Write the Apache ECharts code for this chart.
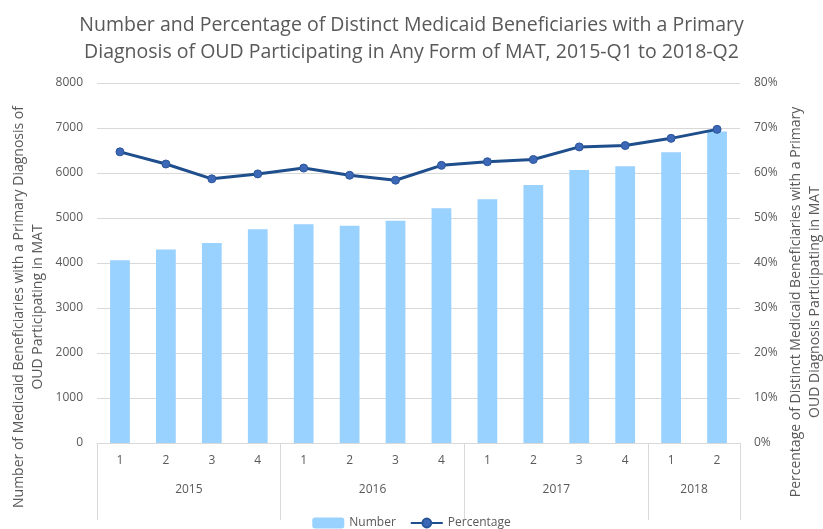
<!DOCTYPE html>
<html>
<head>
<meta charset="utf-8">
<script src="https://cdn.jsdelivr.net/npm/echarts@6/dist/echarts.min.js"></script>
<style>html,body{margin:0;padding:0;background:#fff}#c{width:823px;height:529px}</style>
</head>
<body>
<div id="c"></div>
<script>
const quarters = ['1','2','3','4','1','2','3','4','1','2','3','4','1','2'];
const years = ['2015','2016','2017','2018'];
const yearCenters = [2, 6, 10, 13];
const yearBounds = [0, 4, 8, 12, 14];
const numberValues = [4060, 4300, 4445, 4750, 4860, 4830, 4940, 5215, 5415, 5735, 6065, 6150, 6460, 6920];
const percentValues = [64.7, 62.0, 58.7, 59.8, 61.1, 59.5, 58.4, 61.7, 62.5, 63.0, 65.8, 66.1, 67.7, 69.7];

const txt = '#595959';
const font = '"Open Sans", sans-serif';
const chart = echarts.init(document.getElementById('c'));
chart.setOption({
  animation: false,
  textStyle: { fontFamily: font },
  title: {
    text: 'Number and Percentage of Distinct Medicaid Beneficiaries with a Primary\nDiagnosis of OUD Participating in Any Form of MAT, 2015-Q1 to 2018-Q2',
    left: 'center', top: 7,
    textStyle: { fontFamily: font, fontSize: 19.5, fontWeight: 'normal', color: txt, lineHeight: 27 }
  },
  legend: {
    bottom: -5, left: 'center', itemWidth: 32, itemHeight: 11, itemGap: 14,
    textStyle: { fontFamily: font, fontSize: 12, color: txt },
    data: ['Number', 'Percentage']
  },
  grid: { left: 97, right: 83, top: 83, bottom: 86 },
  xAxis: [
    {
      type: 'category', data: quarters, gridIndex: 0, position: 'bottom',
      axisLine: { lineStyle: { color: '#d9d9d9' } },
      axisTick: { show: false },
      axisLabel: { color: txt, fontSize: 12, margin: 12 }
    },
    {
      type: 'value', min: 0, max: 14, gridIndex: 0, position: 'bottom',
      axisLine: { show: false },
      splitLine: { show: false },
      axisTick: { show: true, customValues: yearBounds, length: 77, lineStyle: { color: '#d9d9d9' } },
      axisLabel: {
        customValues: yearCenters, color: txt, fontSize: 12, margin: 41,
        formatter: v => years[yearCenters.indexOf(v)]
      }
    }
  ],
  yAxis: [
    {
      type: 'value', min: 0, max: 8000, interval: 1000,
      axisLine: { show: false }, axisTick: { show: false },
      splitLine: { lineStyle: { color: '#d9d9d9' } },
      axisLabel: { color: txt, fontSize: 12, margin: 14, formatter: v => String(v) }
    },
    {
      type: 'value', min: 0, max: 80, interval: 10, position: 'right',
      axisLine: { show: false }, axisTick: { show: false },
      splitLine: { show: false },
      axisLabel: { color: txt, fontSize: 12, margin: 14, formatter: v => v + '%' }
    }
  ],
  graphic: [
    {
      type: 'text', x: 29, y: 307, rotation: Math.PI / 2,
      style: {
        text: 'Number of Medicaid Beneficiaries with a Primary Diagnosis of\nOUD Participating in MAT',
        fontSize: 14, fontFamily: font, fill: txt, align: 'center', verticalAlign: 'middle', lineHeight: 19
      }
    },
    {
      type: 'text', x: 806, y: 302, rotation: Math.PI / 2,
      style: {
        text: 'Percentage of Distinct Medicaid Beneficiaries with a Primary\nOUD Diagnosis Participating in MAT',
        fontSize: 14, fontFamily: font, fill: txt, align: 'center', verticalAlign: 'middle', lineHeight: 19
      }
    }
  ],
  series: [
    {
      name: 'Number', type: 'bar', xAxisIndex: 0, yAxisIndex: 0,
      data: numberValues, barWidth: '43%',
      itemStyle: { color: '#99d1ff' }
    },
    {
      name: 'Percentage', type: 'line', xAxisIndex: 0, yAxisIndex: 1,
      data: percentValues, symbol: 'circle', symbolSize: 8,
      lineStyle: { color: '#1f4e8c', width: 3 },
      itemStyle: { color: '#3d68b8', borderColor: '#2a5599', borderWidth: 1 }
    }
  ]
});
</script>
</body>
</html>
